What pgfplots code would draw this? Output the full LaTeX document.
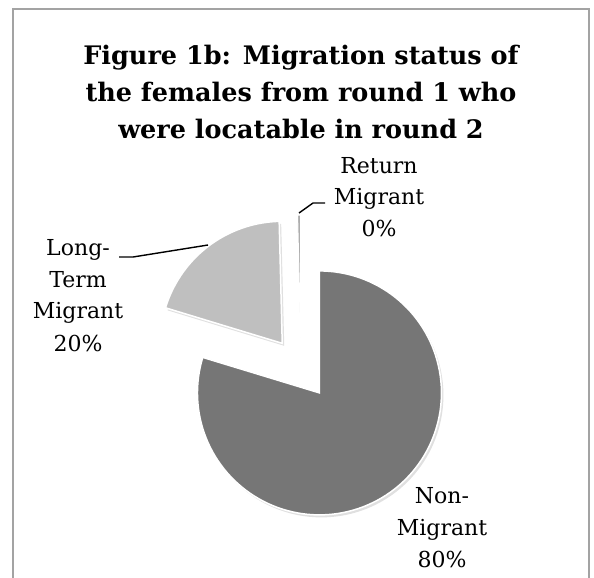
\documentclass[border=0pt]{standalone}
\usepackage{pgfplots}
\pgfplotsset{compat=1.18}
\usepackage{pgfplotstable}
\usepackage{fontspec}
\setmainfont{DejaVu Serif}
\definecolor{darkslice}{HTML}{767676}
\definecolor{lightslice}{HTML}{BFBFBF}
\definecolor{framecol}{HTML}{A3A3A3}

\pgfplotstableread{
label value
NonMigrant 79.7
LongTerm 19.9
Return 0.4
}\piedata

\begin{document}
\begin{tikzpicture}
\pgfplotstablegetelem{0}{value}\of\piedata \let\vA\pgfplotsretval
\pgfplotstablegetelem{1}{value}\of\piedata \let\vB\pgfplotsretval
\pgfplotstablegetelem{2}{value}\of\piedata \let\vC\pgfplotsretval
\pgfmathsetmacro\aZ{90}
\pgfmathsetmacro\aA{\aZ-3.6*\vA}
\pgfmathsetmacro\aB{\aA-3.6*\vB}
\pgfmathsetmacro\aC{\aB-3.6*\vC}
\pgfmathsetmacro\mA{(\aZ+\aA)/2}
\pgfmathsetmacro\mB{(\aA+\aB)/2}
\pgfmathsetmacro\mC{(\aB+\aC)/2}
% pie centre (pixels), radius, explosion
\def\cx{301}\def\cy{368}\def\R{122}\def\ex{31}
\pgfmathsetmacro\oxA{\cx+\ex*cos(\mA)}\pgfmathsetmacro\oyA{\cy-\ex*sin(\mA)}
\pgfmathsetmacro\oxB{\cx+\ex*cos(\mB)}\pgfmathsetmacro\oyB{\cy-\ex*sin(\mB)}
\pgfmathsetmacro\oxC{\cx+\ex*cos(\mC)}\pgfmathsetmacro\oyC{\cy-\ex*sin(\mC)}
\begin{axis}[
  at={(0,0)}, anchor=south west,
  scale only axis, width=594bp, height=578bp,
  xmin=0, xmax=594, ymin=0, ymax=578, y dir=reverse,
  hide axis, clip=false,
]
% shadows
\addplot[draw=none, fill=black, opacity=0.12, domain=\aA:\aZ, samples=120, variable=\t]
  ({\oxA+2+\R*cos(\t)}, {\oyA+2.5-\R*sin(\t)}) -- (\oxA+2,\oyA+2.5) -- cycle;
\addplot[draw=none, fill=black, opacity=0.12, domain=\aB:\aA, samples=60, variable=\t]
  ({\oxB+2+\R*cos(\t)}, {\oyB+2.5-\R*sin(\t)}) -- (\oxB+2,\oyB+2.5) -- cycle;
% slices
\addplot[draw=white, line width=1.5bp, fill=darkslice, domain=\aA:\aZ, samples=120, variable=\t]
  ({\oxA+\R*cos(\t)}, {\oyA-\R*sin(\t)}) -- (\oxA,\oyA) -- cycle;
\addplot[draw=white, line width=1.5bp, fill=lightslice, domain=\aB:\aA, samples=60, variable=\t]
  ({\oxB+\R*cos(\t)}, {\oyB-\R*sin(\t)}) -- (\oxB,\oyB) -- cycle;
\addplot[draw=white, line width=1bp, fill=darkslice!60, domain=\aC:\aB, samples=5, variable=\t]
  ({\oxC+\R*cos(\t)}, {\oyC-\R*sin(\t)}) -- (\oxC,\oyC) -- cycle;
% leader lines
\draw[black, line width=1.4bp] (119,257) -- (133,257) -- (208,245);
\draw[black, line width=1.4bp] (325,203) -- (313,203) -- (299,213);
% frame
\draw[framecol, line width=1.8bp] (13,578) -- (13,9) -- (589,9) -- (589,578);
% title
\begin{scope}[every node/.style={anchor=base, inner sep=0pt, font=\bfseries\fontsize{25.5bp}{30bp}\selectfont}]
\node at (301,65) {Figure 1b: Migration status of};
\node at (301,102) {the females from round 1 who};
\node at (301,138) {were locatable in round 2};
\end{scope}
% labels
\begin{scope}[every node/.style={anchor=base, inner sep=0pt, font=\fontsize{22bp}{30bp}\selectfont}]
\node at (78,255) {Long-};
\node at (78,287) {Term};
\node at (78,318) {Migrant};
\node at (78,351) {20\%};
\node at (379,173) {Return};
\node at (379,204) {Migrant};
\node at (379,236) {0\%};
\node at (442,503) {Non-};
\node at (442,535) {Migrant};
\node at (442,567) {80\%};
\end{scope}
\end{axis}
\pgfresetboundingbox
\useasboundingbox (0,0) rectangle (594bp,578bp);
\end{tikzpicture}
\end{document}
